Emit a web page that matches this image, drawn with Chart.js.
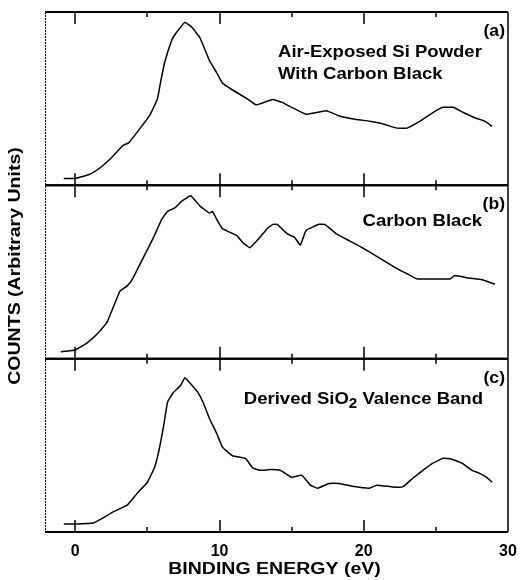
<!DOCTYPE html>
<html lang="en">
<head>
  <meta charset="UTF-8">
  <title>Valence band spectra</title>
  <script src="https://cdn.jsdelivr.net/npm/chart.js"></script>
  <style>
    body { margin: 0; background: #fff; }
    #wrap { width: 521px; height: 580px; position: relative; }
  </style>
</head>
<body>
  <div id="wrap"><canvas id="chart" width="521" height="580"></canvas></div>

  <script>
    // (a) air-exposed Si powder with carbon black
    const energyA = [-0.8, 0, 1.0, 1.7, 2.4, 3.3, 3.7, 4.5, 5.2, 5.7, 5.9, 6.2, 6.7, 7.0, 7.6, 8.1, 8.65, 9.3, 9.8, 10.2, 10.9, 11.9, 12.5, 12.8, 13.7, 14.3, 15.0, 16.0, 17.4, 18.3, 19.5, 20.4, 21.3, 22.3, 23.0, 23.9, 24.8, 25.5, 26.2, 26.9, 27.7, 28.4, 28.9];
    const countsA = [4, 4, 6.4, 10, 15, 23, 24.5, 33, 41, 50, 59, 71, 84, 88, 94, 91, 85, 72, 65, 59, 55, 50, 46.5, 47, 49.5, 48, 45, 41, 43, 40, 38, 37, 35.5, 33, 33, 37, 42, 45, 45, 42, 39, 37, 34];

    // (b) carbon black
    const energyB = [-1.0, 0, 0.8, 1.6, 2.2, 2.6, 3.1, 3.6, 4.0, 4.7, 5.4, 6.0, 6.4, 6.9, 7.4, 8.0, 8.65, 9.3, 9.5, 9.9, 10.2, 11.2, 11.6, 12.1, 12.7, 13.3, 13.7, 14.0, 14.7, 15.2, 15.6, 16.0, 16.9, 17.3, 18.1, 19.0, 19.9, 21.1, 22.3, 23.0, 23.7, 24.8, 26.0, 26.3, 27.3, 28.2, 29.1];
    const countsB = [4, 5, 9, 15, 21, 29, 39, 42, 46.5, 58, 69.5, 80.5, 85, 87, 91, 94, 88, 84, 85, 79, 75, 71, 67, 64, 69, 75, 77.5, 77.5, 72, 70, 65.5, 74, 77.5, 77.5, 72, 68, 64, 58, 52, 49, 46, 46, 46, 48, 46.5, 45.5, 43];

    // (c) derived SiO2 valence band
    const energyC = [-0.8, 0, 1.25, 1.9, 2.6, 3.6, 4.3, 5.0, 5.5, 5.8, 6.1, 6.4, 6.8, 7.3, 7.6, 8.1, 8.5, 8.9, 9.3, 9.8, 10.2, 10.9, 11.8, 12.3, 12.8, 13.5, 14.2, 15.0, 15.7, 16.3, 16.8, 17.6, 18.3, 19.2, 20.4, 20.9, 22.0, 22.7, 23.4, 24.1, 24.8, 25.5, 26.1, 26.8, 27.5, 28.0, 28.5, 28.9];
    const countsC = [4.6, 4.6, 5.2, 8, 11.5, 15.5, 22.4, 28.7, 37.4, 47, 60, 75, 80.5, 84.5, 89, 84.5, 80.5, 74, 65.5, 57, 49, 44, 42.5, 37, 35.6, 36, 35.6, 31.6, 32.8, 27, 25.3, 28, 28, 26.4, 25.3, 27, 26, 26, 31, 35.6, 39.7, 42.5, 42, 39.7, 35.6, 34, 31.6, 28.7];

    const xTicks = [0, 10, 20, 30];
    const minorTicks = [5, 15, 25];
    const panelTags = ['(a)', '(b)', '(c)'];

    const FONT = '"Liberation Sans", Arial, sans-serif';

    function pts(xs, ys) {
      return xs.map((x, i) => ({ x: x, y: ys[i] }));
    }

    function line(data, axis) {
      return {
        data: data,
        yAxisID: axis,
        borderColor: '#000',
        borderWidth: 1.5,
        pointRadius: 0,
        tension: 0.1,
        fill: false
      };
    }

    function panelAxis() {
      return {
        type: 'linear',
        position: 'left',
        stack: 'panels',
        min: 0,
        max: 100,
        ticks: { display: false },
        grid: { display: false },
        border: { display: false },
        afterFit: s => { s.width = 45; }
      };
    }

    // text a bit wider than the installed face, like the scanned lettering
    function wideText(ctx, str, x, y, size, stretch, align) {
      ctx.save();
      ctx.font = 'bold ' + size + 'px ' + FONT;
      const w = ctx.measureText(str).width * stretch;
      let x0 = x;
      if (align === 'right') x0 = x - w;
      if (align === 'center') x0 = x - w / 2;
      ctx.translate(x0, y);
      ctx.scale(stretch, 1);
      ctx.textAlign = 'left';
      ctx.fillText(str, 0, 0);
      ctx.restore();
      return w;
    }

    // frame, inward ticks and panel captions
    const decor = {
      id: 'decor',
      afterDraw(chart) {
        const ctx = chart.ctx;
        const x = chart.scales.x;
        const panels = [chart.scales.ya, chart.scales.yb, chart.scales.yc];
        const left = x.left, right = x.right;
        ctx.save();
        ctx.strokeStyle = '#000';

        // left edge, thin dotted
        ctx.lineWidth = 1;
        ctx.setLineDash([2, 1]);
        ctx.beginPath();
        ctx.moveTo(left + 0.5, panels[0].top);
        ctx.lineTo(left + 0.5, panels[2].bottom);
        ctx.stroke();
        ctx.setLineDash([]);

        // right edge
        ctx.lineWidth = 1.5;
        ctx.beginPath();
        ctx.moveTo(right, panels[0].top);
        ctx.lineTo(right, panels[2].bottom);
        ctx.stroke();

        panels.forEach(p => {
          ctx.lineWidth = 2;
          ctx.beginPath();
          ctx.moveTo(left, p.top); ctx.lineTo(right, p.top);
          ctx.moveTo(left, p.bottom); ctx.lineTo(right, p.bottom);
          ctx.stroke();
          ctx.lineWidth = 1.5;
          ctx.beginPath();
          xTicks.slice(0, 3).forEach(v => {
            const px = Math.round(x.getPixelForValue(v));
            ctx.moveTo(px, p.top); ctx.lineTo(px, p.top + 12);
            ctx.moveTo(px, p.bottom); ctx.lineTo(px, p.bottom - 12);
          });
          minorTicks.forEach(v => {
            const px = Math.round(x.getPixelForValue(v));
            ctx.moveTo(px, p.top); ctx.lineTo(px, p.top + 5);
            ctx.moveTo(px, p.bottom); ctx.lineTo(px, p.bottom - 5);
          });
          ctx.stroke();
        });

        ctx.fillStyle = '#000';
        ctx.textBaseline = 'alphabetic';

        // tags
        panels.forEach((p, i) => {
          wideText(ctx, panelTags[i], right - 3, p.top + 24, 16, 1.1, 'right');
        });

        wideText(ctx, 'Air-Exposed Si Powder', 278, panels[0].top + 45, 17, 1.09, 'left');
        wideText(ctx, 'With Carbon Black', 278, panels[0].top + 67, 17, 1.09, 'left');
        wideText(ctx, 'Carbon Black', 482, panels[1].top + 41, 17, 1.09, 'right');

        // Derived SiO2 Valence Band with subscript
        const y3 = panels[2].top + 45;
        const st = 1.09;
        ctx.font = 'bold 17px ' + FONT;
        const wA = ctx.measureText('Derived SiO').width * st;
        const wB = ctx.measureText(' Valence Band').width * st;
        ctx.font = 'bold 14px ' + FONT;
        const wS = ctx.measureText('2').width * st;
        const sx = 483 - wA - wS - wB;
        wideText(ctx, 'Derived SiO', sx, y3, 17, st, 'left');
        wideText(ctx, '2', sx + wA, y3 + 4, 14, st, 'left');
        wideText(ctx, ' Valence Band', sx + wA + wS, y3, 17, st, 'left');

        // x title
        wideText(ctx, 'BINDING ENERGY (eV)', (left + right) / 2 - 2, 574, 16, 1.22, 'center');

        // y title
        ctx.translate(20, 266);
        ctx.rotate(-Math.PI / 2);
        wideText(ctx, 'COUNTS (Arbitrary Units)', 0, 0, 16, 1.22, 'center');
        ctx.restore();
      }
    };

    new Chart(document.getElementById('chart'), {
      type: 'line',
      data: {
        datasets: [
          line(pts(energyC, countsC), 'yc'),
          line(pts(energyB, countsB), 'yb'),
          line(pts(energyA, countsA), 'ya')
        ]
      },
      options: {
        responsive: false,
        animation: false,
        events: [],
        layout: { padding: { left: 0, right: 13, top: 12, bottom: 0 } },
        plugins: { legend: { display: false }, tooltip: { enabled: false } },
        scales: {
          x: {
            type: 'linear',
            position: 'bottom',
            min: -2.1,
            max: 30,
            afterBuildTicks: s => { s.ticks = xTicks.map(v => ({ value: v })); },
            ticks: {
              color: '#000',
              padding: 2,
              maxRotation: 0,
              font: { family: FONT, size: 16, weight: 'bold' }
            },
            grid: { display: false },
            border: { display: false },
            afterFit: s => { s.height = 48; }
          },
          yc: panelAxis(),
          yb: panelAxis(),
          ya: panelAxis()
        }
      },
      plugins: [decor]
    });
  </script>
</body>
</html>
